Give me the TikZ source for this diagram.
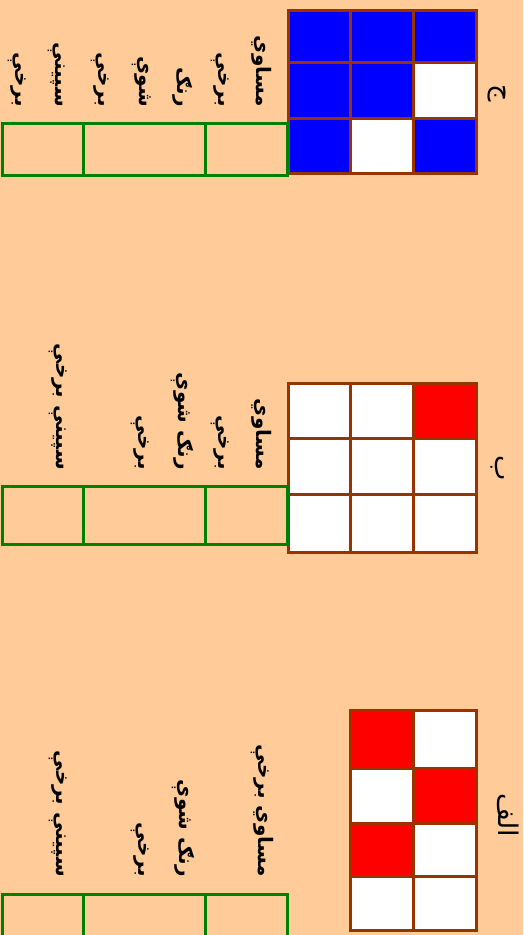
\documentclass[tikz,border=0pt]{standalone}
\usepackage{fontspec}
\newfontfamily\arabicfont[Script=Arabic]{DejaVu Sans}
\TeXXeTstate=1
\definecolor{bg}{HTML}{FFCC99}
\definecolor{gridbrown}{HTML}{993300}
\definecolor{tablegreen}{HTML}{008000}
\definecolor{cellblue}{HTML}{0000FF}
\definecolor{cellred}{HTML}{FF0000}
\tikzset{
  cellline/.style={draw=gridbrown, line width=3pt},
  tabline/.style={draw=tablegreen, line width=3pt},
  ptext/.style={rotate=-90, anchor=east, inner sep=0pt, font=\arabicfont\bfseries\fontsize{20}{24}\selectfont},
  plabel/.style={rotate=-90, inner sep=0pt, font=\arabicfont\fontsize{27}{30}\selectfont},
}
\begin{document}
\begin{tikzpicture}[x=1pt,y=-1pt]
\useasboundingbox (0,0) rectangle (523,935);
\clip (0,0) rectangle (523,935);
\fill[bg] (0,0) rectangle (523,935);

% ---------- group ج ----------
\fill[white] (288,10) rectangle (476,173);
\fill[cellblue] (288,10) rectangle (476,62);
\fill[cellblue] (288,62) rectangle (413,118);
\fill[cellblue] (288,118) rectangle (350,173);
\fill[cellblue] (413,118) rectangle (476,173);
\draw[cellline] (288,10) rectangle (476,173);
\draw[cellline] (350,10) -- (350,173) (413,10) -- (413,173)
               (288,62) -- (476,62) (288,118) -- (476,118);
\node[plabel] (labC) at (497,93) {\beginR ج\endR};
\draw[tabline] (2,123) rectangle (287,175);
\draw[tabline] (83,123) -- (83,175) (205,123) -- (205,175);
\node[ptext] (c1) at (262,107) {\beginR مساوي\endR};
\node[ptext] (c2) at (220,107) {\beginR برخې\endR};
\node[ptext] (c3) at (183,107) {\beginR رنګ\endR};
\node[ptext] (c4) at (142,107) {\beginR شوې\endR};
\node[ptext] (c5) at (100,107) {\beginR برخې\endR};
\node[ptext] (c6) at (57,107) {\beginR سپينې\endR};
\node[ptext] (c7) at (17,107) {\beginR برخې\endR};

% ---------- group ب ----------
\fill[white] (288,383) rectangle (476,552);
\fill[cellred] (413,383) rectangle (476,438);
\draw[cellline] (288,383) rectangle (476,552);
\draw[cellline] (350,383) -- (350,552) (413,383) -- (413,552)
               (288,438) -- (476,438) (288,494) -- (476,494);
\node[plabel] (labB) at (498,468) {\beginR ب\endR};
\draw[tabline] (2,486) rectangle (287,544);
\draw[tabline] (83,486) -- (83,544) (205,486) -- (205,544);
\node[ptext] (b1) at (262,470) {\beginR مساوي\endR};
\node[ptext] (b2) at (220,470) {\beginR برخې\endR};
\node[ptext] (b3) at (182,470) {\beginR رنګ شوې\endR};
\node[ptext] (b4) at (140,470) {\beginR برخې\endR};
\node[ptext] (b5) at (58,470) {\beginR سپينې برخې\endR};

% ---------- group الف ----------
\fill[white] (350,710) rectangle (476,930);
\fill[cellred] (350,710) rectangle (413,768);
\fill[cellred] (413,768) rectangle (476,823);
\fill[cellred] (350,823) rectangle (413,876);
\draw[cellline] (350,710) rectangle (476,930);
\draw[cellline] (413,710) -- (413,930)
               (350,768) -- (476,768) (350,823) -- (476,823) (350,876) -- (476,876);
\node[plabel] (labA) at (508,815) {\beginR الف\endR};
\draw[tabline] (2,894) rectangle (287,960);
\draw[tabline] (83,894) -- (83,960) (205,894) -- (205,960);
\node[ptext] (a1) at (262,877) {\beginR مساوي برخې\endR};
\node[ptext] (a2) at (183,877) {\beginR رنګ شوې\endR};
\node[ptext] (a3) at (140,877) {\beginR برخې\endR};
\node[ptext] (a4) at (58,877) {\beginR سپينې برخې\endR};
\end{tikzpicture}
\end{document}
